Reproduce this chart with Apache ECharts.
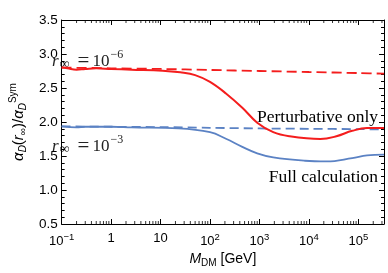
<!DOCTYPE html>
<html><head><meta charset="utf-8">
<script src="https://cdn.jsdelivr.net/npm/echarts@6/dist/echarts.min.js"></script>
<style>html,body{margin:0;padding:0;background:#fff}#c{width:388px;height:273px}</style>
</head><body><div id="c"></div>
<script>
// ---- data ----
const redFullX   = [0.1, 0.13, 0.2, 0.3, 0.5, 1, 2.6, 11, 25, 50, 100, 210, 450, 900, 1900, 4000, 17000, 36000, 75000, 150000, 330000];
const redFullY   = [2.80, 2.79, 2.77, 2.78, 2.79, 2.78, 2.77, 2.755, 2.73, 2.69, 2.59, 2.42, 2.21, 1.99, 1.85, 1.79, 1.75, 1.79, 1.87, 1.91, 1.91];
const redPertX   = [0.1, 1, 10, 100, 1000, 10000, 100000, 330000];
const redPertY   = [2.80, 2.79, 2.78, 2.765, 2.75, 2.735, 2.72, 2.71];
const blueFullX  = [0.1, 0.2, 0.3, 1, 2.6, 23, 100, 210, 450, 900, 1900, 8300, 23000, 75000, 150000, 330000];
const blueFullY  = [1.935, 1.92, 1.93, 1.93, 1.922, 1.907, 1.85, 1.754, 1.635, 1.54, 1.48, 1.43, 1.42, 1.47, 1.51, 1.52];
const bluePertX  = [0.1, 1, 10, 100, 1000, 10000, 100000, 330000];
const bluePertY  = [1.935, 1.93, 1.925, 1.915, 1.905, 1.90, 1.895, 1.89];
const xTickExps  = [-1, 0, 1, 2, 3, 4, 5];
const xTickTexts = ['10{sup|−1}', '1', '10', '10{sup|2}', '10{sup|3}', '10{sup|4}', '10{sup|5}'];
const xMinorTicks = [];
[-1,0,1,2,3,4,5].forEach(e => { for (let m = 2; m <= 9; m++) { const v = m * Math.pow(10, e); if (v <= 330000) xMinorTicks.push(+v.toPrecision(3)); } });
const yTicks = ['0.5','1.0','1.5','2.0','2.5','3.0','3.5'];

const RED = '#f41d1d', BLUE = '#5b82c4';
const SANS = 'Liberation Sans', SERIF = 'Liberation Serif';
const zip = (xs, ys) => xs.map((x, i) => [x, ys[i]]);

const chart = echarts.init(document.getElementById('c'), null, {renderer: 'canvas'});

const xFormatter = v => {
  const l = Math.log10(v), e = Math.round(l);
  if (Math.abs(l - e) > 1e-6) return '';
  const i = xTickExps.indexOf(e);
  return i < 0 ? '' : xTickTexts[i];
};

const baseX = {
  type: 'log', logBase: 10, min: 0.1, max: 330000,
  axisLine: {show: true, lineStyle: {color: '#000', width: 1}},
  axisTick: {show: true, inside: true, length: 5, lineStyle: {color: '#000'}},
  splitLine: {show: false}, minorTick: {show: false}, minorSplitLine: {show: false}
};
const baseY = {
  type: 'value', min: 0.5, max: 3.5, interval: 0.5,
  axisLine: {show: true, lineStyle: {color: '#000', width: 1}},
  axisTick: {show: true, inside: true, length: 5, lineStyle: {color: '#000'}},
  minorTick: {show: true, splitNumber: 5, length: 3, lineStyle: {color: '#000'}},
  splitLine: {show: false}
};

const rRich = {
  r: {fontFamily: SERIF, fontSize: 17, fontStyle: 'italic', fill: '#222', lineHeight: 24},
  sub: {fontFamily: SERIF, fontSize: 14, fill: '#222', lineHeight: 24, padding: [6, 0, 0, 1]},
  eq: {fontFamily: SERIF, fontSize: 21, fill: '#222', lineHeight: 24, padding: [0, 3, 0, 8]},
  n: {fontFamily: SERIF, fontSize: 17, fill: '#222', lineHeight: 24},
  sup: {fontFamily: SERIF, fontSize: 12, fill: '#222', lineHeight: 24, padding: [0, 0, 13, 1]}
};

chart.setOption({
  animation: false,
  grid: {left: 46, right: 4, top: 20, bottom: 44, containLabel: false},
  xAxis: [
    Object.assign({}, baseX, {
      position: 'bottom',
      name: '{i|M}{sub|DM}{n| [GeV]}', nameLocation: 'middle', nameGap: 27,
      nameTextStyle: {rich: {
        i: {fontFamily: SANS, fontSize: 14, fontStyle: 'italic', color: '#000'},
        sub: {fontFamily: SANS, fontSize: 10, color: '#000', padding: [7, 0, 0, 0]},
        n: {fontFamily: SANS, fontSize: 14, color: '#000'}
      }},
      axisLabel: {show: true, margin: 8, formatter: xFormatter, showMaxLabel: false,
        fontFamily: SANS, fontSize: 13, color: '#000',
        rich: {sup: {fontFamily: SANS, fontSize: 9.5, color: '#000', padding: [0, 0, 8, 0]}}}
    }),
    Object.assign({}, baseX, {position: 'top', axisLabel: {show: false}})
  ],
  yAxis: [
    Object.assign({}, baseY, {
      position: 'left',
      name: '{a|α}{sub|D}{n|(}{a|r}{sub|∞}{n|)/}{a|α}{sub|D}{sup|Sym}',
      nameLocation: 'middle', nameGap: 22, nameRotate: 90,
      nameTextStyle: {rich: {
        a: {fontFamily: SANS, fontSize: 15, fontStyle: 'italic', color: '#000'},
        n: {fontFamily: SANS, fontSize: 15, color: '#000'},
        sub: {fontFamily: SANS, fontSize: 10, fontStyle: 'italic', color: '#000', padding: [8, 0, 0, 0]},
        sup: {fontFamily: SANS, fontSize: 10, color: '#000', padding: [0, 0, 12, 0]}
      }},
      axisLabel: {show: true, margin: 4, fontFamily: SANS, fontSize: 13.5, color: '#000',
        formatter: v => yTicks[Math.round((v - 0.5) / 0.5)] || ''}
    }),
    Object.assign({}, baseY, {position: 'right', axisLabel: {show: false}})
  ],
  series: [
    {type: 'line', data: zip(redPertX, redPertY), showSymbol: false, smooth: 0.3, silent: true,
      lineStyle: {color: RED, width: 1.8, type: [10, 5]}, z: 3},
    {type: 'line', data: zip(bluePertX, bluePertY), showSymbol: false, smooth: 0.3, silent: true,
      lineStyle: {color: BLUE, width: 1.8, type: [9, 5]}, z: 3},
    {type: 'line', data: zip(redFullX, redFullY), showSymbol: false, smooth: 0.4, silent: true,
      lineStyle: {color: RED, width: 2}, z: 4},
    {type: 'line', data: zip(blueFullX, blueFullY), showSymbol: false, smooth: 0.4, silent: true,
      lineStyle: {color: BLUE, width: 1.8}, z: 4},
    {type: 'scatter', data: xMinorTicks.map(v => [v, 0.5]), symbol: 'rect', symbolSize: [1, 3],
      symbolOffset: [0, -1.5], itemStyle: {color: '#000'}, silent: true, z: 5},
    {type: 'scatter', data: xMinorTicks.map(v => [v, 3.5]), symbol: 'rect', symbolSize: [1, 3],
      symbolOffset: [0, 1.5], itemStyle: {color: '#000'}, silent: true, z: 5}
  ],
  graphic: [
    {type: 'text', left: 52, top: 49, silent: true, style: {
      text: '{r|r}{sub|∞}{eq|=}{n|10}{sup|−6}', rich: rRich}},
    {type: 'text', left: 52, top: 134, silent: true, style: {
      text: '{r|r}{sub|∞}{eq|=}{n|10}{sup|−3}', rich: rRich}},
    {type: 'text', right: 10, top: 108, silent: true, style: {
      text: 'Perturbative only', fontFamily: SERIF, fontSize: 17.5, fill: '#000'}},
    {type: 'text', right: 10, top: 168, silent: true, style: {
      text: 'Full calculation', fontFamily: SERIF, fontSize: 17.5, fill: '#000'}}
  ]
});
</script></body></html>
